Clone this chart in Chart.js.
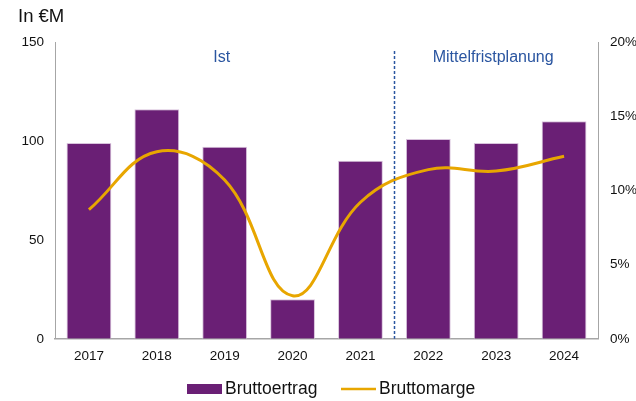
<!DOCTYPE html>
<html>
<head>
<meta charset="utf-8">
<script src="https://cdn.jsdelivr.net/npm/chart.js@4/dist/chart.umd.min.js"></script>
<style>
  html, body { margin: 0; padding: 0; background: #fff; }
  #wrap { width: 636px; height: 401px; position: relative; }
</style>
</head>
<body>
<div id="wrap"><canvas id="c" width="636" height="401"></canvas></div>
<script>
// Jahre
const years = ['2017', '2018', '2019', '2020', '2021', '2022', '2023', '2024'];
// Bruttoertrag in Mio. EUR
const bruttoertrag = [99, 116, 97, 20, 90, 101, 99, 110];
// Bruttomarge in %
const bruttomarge = [8.7, 12.6, 10.7, 2.9, 9.2, 11.4, 11.3, 12.3];
// Achsenbeschriftungen
const leftTicks = [0, 50, 100, 150];
const rightTicks = [0, 5, 10, 15, 20];
const periodLabels = ['Ist', 'Mittelfristplanung'];
const lastActualIndex = 4;

const FONT = '"Liberation Sans", Arial, sans-serif';
const PURPLE = '#6A1F75';
const GOLD = '#E8A600';
const BLUE = '#2A55A0';

// Trennlinie Ist / Planung, Periodenüberschriften, Einheit und Legende
const overlay = {
  id: 'overlay',
  afterDatasetsDraw(chart) {
    const { ctx, scales: { x }, chartArea } = chart;
    const sepX = (x.getPixelForValue(lastActualIndex) + x.getPixelForValue(lastActualIndex + 1)) / 2;
    ctx.save();
    ctx.strokeStyle = BLUE;
    ctx.lineWidth = 1.5;
    ctx.setLineDash([3, 2]);
    ctx.beginPath();
    ctx.moveTo(Math.round(sepX) + 0.5, chartArea.top + 9);
    ctx.lineTo(Math.round(sepX) + 0.5, chartArea.bottom);
    ctx.stroke();
    ctx.setLineDash([]);

    ctx.fillStyle = BLUE;
    ctx.font = '16px ' + FONT;
    ctx.textAlign = 'center';
    ctx.textBaseline = 'middle';
    const istX = (x.getPixelForValue(0) + x.getPixelForValue(lastActualIndex)) / 2 - 3;
    const planX = (x.getPixelForValue(lastActualIndex + 1) + x.getPixelForValue(years.length - 1)) / 2 - 3;
    ctx.fillText(periodLabels[0], istX, chartArea.top + 16);
    ctx.fillText(periodLabels[1], planX, chartArea.top + 16);

    ctx.fillStyle = '#111';
    ctx.font = '18.5px ' + FONT;
    ctx.textAlign = 'left';
    ctx.fillText('In €M', 18, 17);

    // Legende
    const ly = 389;
    ctx.font = '17.5px ' + FONT;
    ctx.fillStyle = PURPLE;
    ctx.fillRect(187, ly - 5, 35, 10);
    ctx.fillStyle = '#111';
    ctx.fillText(chart.data.datasets[0].label, 225, ly);
    ctx.strokeStyle = GOLD;
    ctx.lineWidth = 2.5;
    ctx.beginPath();
    ctx.moveTo(341, ly);
    ctx.lineTo(376, ly);
    ctx.stroke();
    ctx.fillText(chart.data.datasets[1].label, 379, ly);
    ctx.restore();
  }
};

new Chart(document.getElementById('c'), {
  data: {
    labels: years,
    datasets: [
      {
        type: 'bar',
        label: 'Bruttoertrag',
        data: bruttoertrag,
        backgroundColor: PURPLE,
        borderColor: '#D8C2DC',
        borderWidth: 1,
        barPercentage: 0.66,
        categoryPercentage: 1,
        yAxisID: 'y',
        order: 2
      },
      {
        type: 'line',
        label: 'Bruttomarge',
        data: bruttomarge,
        borderColor: GOLD,
        borderWidth: 3,
        pointRadius: 0,
        tension: 0.4,
        fill: false,
        yAxisID: 'y1',
        order: 1
      }
    ]
  },
  options: {
    responsive: false,
    animation: false,
    devicePixelRatio: 1,
    layout: { padding: { top: 42, bottom: 28, left: 0, right: 0 } },
    plugins: { legend: { display: false }, tooltip: { enabled: false } },
    scales: {
      x: {
        grid: { display: false, drawTicks: false },
        border: { display: true, color: '#A6A6A6', width: 1.5 },
        ticks: { color: '#111', font: { family: FONT, size: 13.5 }, padding: 9, maxRotation: 0 }
      },
      y: {
        position: 'left',
        min: 0, max: 150,
        afterBuildTicks(axis) { axis.ticks = leftTicks.map(v => ({ value: v })); },
        afterFit(axis) { axis.width = 55; },
        grid: { display: false, drawTicks: false },
        border: { display: true, color: '#A6A6A6', width: 1 },
        ticks: { color: '#111', font: { family: FONT, size: 13.5 }, padding: 11 }
      },
      y1: {
        position: 'right',
        min: 0, max: 20,
        afterBuildTicks(axis) { axis.ticks = rightTicks.map(v => ({ value: v })); },
        afterFit(axis) { axis.width = 38; },
        grid: { display: false, drawOnChartArea: false, drawTicks: true, tickLength: 4, color: '#A6A6A6' },
        border: { display: true, color: '#A6A6A6', width: 1 },
        ticks: { color: '#111', font: { family: FONT, size: 13.5 }, padding: 8, callback: v => v + '%' }
      }
    }
  },
  plugins: [overlay]
});
</script>
</body>
</html>
